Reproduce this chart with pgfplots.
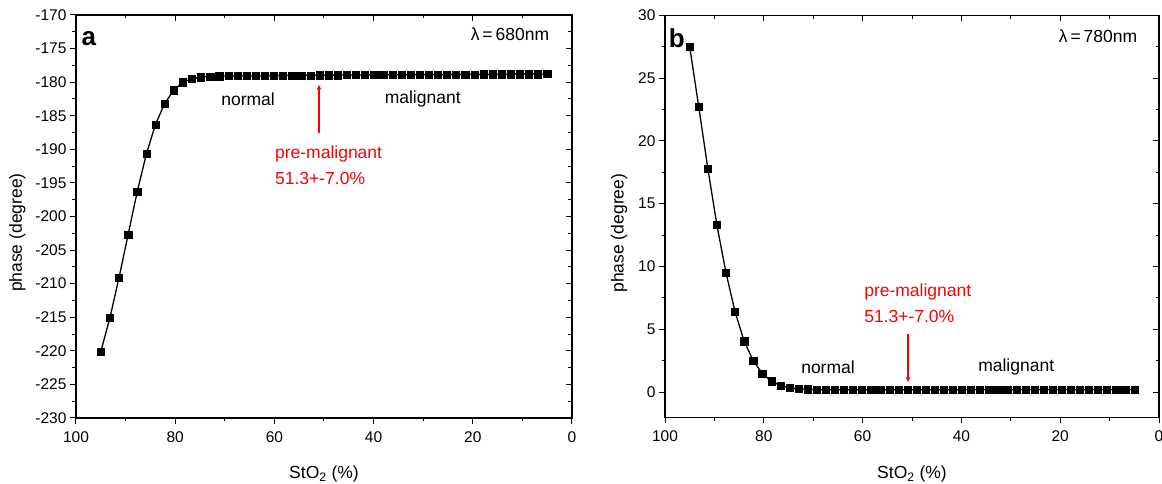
\documentclass[border=0pt]{standalone}
\usepackage{fontspec}
\setmainfont{Liberation Sans}
\usepackage{pgfplots}
\pgfplotsset{compat=1.18}
\usepackage{pgfplotstable}

\pgfplotstableread{
x y
95.000 -220.1
93.163 -215.1
91.327 -209.1
89.490 -202.7
87.653 -196.3
85.816 -190.7
83.980 -186.3
82.143 -183.2
80.306 -181.2
78.469 -180.0
76.633 -179.5
74.796 -179.25
72.959 -179.15
71.122 -179.10
69.286 -179.08
67.449 -179.06
65.612 -179.05
63.776 -179.04
61.939 -179.03
60.102 -179.02
58.265 -179.01
56.429 -179.00
54.592 -178.99
52.755 -178.98
50.918 -178.97
49.082 -178.96
47.245 -178.95
45.408 -178.94
43.571 -178.93
41.735 -178.92
39.898 -178.91
38.061 -178.90
36.224 -178.89
34.388 -178.88
32.551 -178.87
30.714 -178.86
28.878 -178.85
27.041 -178.85
25.204 -178.84
23.367 -178.84
21.531 -178.83
19.694 -178.83
17.857 -178.82
16.020 -178.82
14.184 -178.81
12.347 -178.81
10.510 -178.80
8.673 -178.80
6.837 -178.80
5.000 -178.79
}\dataA

\pgfplotstableread{
x y
95.000 27.5
93.163 22.7
91.327 17.8
89.490 13.3
87.653 9.5
85.816 6.4
83.980 4.06
82.143 2.5
80.306 1.49
78.469 0.87
76.633 0.53
74.796 0.34
72.959 0.27
71.122 0.23
69.286 0.21
67.449 0.20
65.612 0.20
63.776 0.20
61.939 0.20
60.102 0.20
58.265 0.20
56.429 0.20
54.592 0.20
52.755 0.20
50.918 0.20
49.082 0.20
47.245 0.20
45.408 0.20
43.571 0.20
41.735 0.20
39.898 0.20
38.061 0.21
36.224 0.21
34.388 0.21
32.551 0.21
30.714 0.21
28.878 0.21
27.041 0.21
25.204 0.21
23.367 0.21
21.531 0.21
19.694 0.22
17.857 0.22
16.020 0.22
14.184 0.22
12.347 0.22
10.510 0.22
8.673 0.22
6.837 0.22
5.000 0.22
}\dataB

\newcommand{\tfont}{\fontsize{15.5}{17}\selectfont}
\newcommand{\afont}{\fontsize{17.5}{20}\selectfont}

\pgfplotsset{
  myaxis/.style={
    scale only axis, anchor=south west,
    x dir=reverse, xmin=0, xmax=100, xtick={0,20,...,100},
    minor x tick num=1, minor y tick num=1,
    axis line style={line width=1.2pt},
    major tick length=6pt, minor tick length=3.5pt,
    every tick/.style={black, line width=1pt},
    tick label style={font=\tfont},
    xticklabel style={yshift=-4pt},
    /pgf/number format/assume math mode=true,
    clip=false,
  },
  outer/.style={myaxis, tick align=outside, xtick pos=left, ytick pos=left},
  inner/.style={myaxis, tick align=inside, xtick pos=right, ytick pos=right,
    xticklabels={}, yticklabels={}},
  curve/.style={black, line width=1.3pt, mark=square*, mark size=3.6pt,
    mark options={line width=0.4pt}},
}

\begin{document}
\begin{tikzpicture}
\useasboundingbox (0,0) rectangle (1162pt,484pt);

% ---- panel a ----
\begin{axis}[inner, at={(76pt,66pt)}, width=496pt, height=403pt,
  ymin=-230, ymax=-170, ytick={-230,-225,...,-170}]
\end{axis}
\begin{axis}[outer, at={(76pt,66pt)}, width=496pt, height=403pt,
  ymin=-230, ymax=-170, ytick={-230,-225,...,-170}]
\addplot[curve] table[x=x,y=y] {\dataA};
\node[rotate=90, font=\afont] at (axis description cs:-0.118,0.46) {phase (degree)};
\node[anchor=base, font=\afont] at (axis description cs:0.5,-0.151) {StO\textsubscript{2} (\%)};
\node[font=\fontsize{26}{28}\selectfont\bfseries] at (axis cs:97.4,-173.5) {a};
\node[anchor=east, font=\afont] at (axis cs:3.9,-172.9) {λ\,=\,680nm};
\node[font=\afont] at (axis cs:65.3,-182.5) {normal};
\node[font=\afont] at (axis cs:30.1,-182.5) {malignant};
\draw[draw=red, line width=1.2pt, -stealth] (axis cs:51.0,-187.5) -- (axis cs:51.0,-180.4);
\node[anchor=west, text=red, font=\afont, inner sep=0pt] at (axis cs:59.9,-190.7) {pre-malignant};
\node[anchor=west, text=red, font=\afont, inner sep=0pt] at (axis cs:59.9,-194.3) {51.3+-7.0\%};
\end{axis}

% ---- panel b ----
\begin{axis}[inner, at={(665pt,66.7pt)}, width=494pt, height=402pt,
  ymin=-2, ymax=30, ytick={0,5,...,30}]
\end{axis}
\begin{axis}[outer, at={(665pt,66.7pt)}, width=494pt, height=402pt,
  ymin=-2, ymax=30, ytick={0,5,...,30}]
\addplot[curve] table[x=x,y=y] {\dataB};
\node[rotate=90, font=\afont] at (axis description cs:-0.093,0.458) {phase (degree)};
\node[anchor=base, font=\afont] at (axis description cs:0.5,-0.153) {StO\textsubscript{2} (\%)};
\node[font=\fontsize{26}{28}\selectfont\bfseries] at (axis cs:97.6,28.2) {b};
\node[anchor=east, font=\afont] at (axis cs:3.7,28.3) {λ\,=\,780nm};
\node[font=\afont] at (axis cs:67.0,2.0) {normal};
\node[font=\afont] at (axis cs:28.9,2.0) {malignant};
\draw[draw=red, line width=1.2pt, -stealth] (axis cs:50.8,4.67) -- (axis cs:50.8,0.82);
\node[anchor=west, text=red, font=\afont, inner sep=0pt] at (axis cs:59.7,7.98) {pre-malignant};
\node[anchor=west, text=red, font=\afont, inner sep=0pt] at (axis cs:59.7,6.05) {51.3+-7.0\%};
\end{axis}
\end{tikzpicture}
\end{document}
